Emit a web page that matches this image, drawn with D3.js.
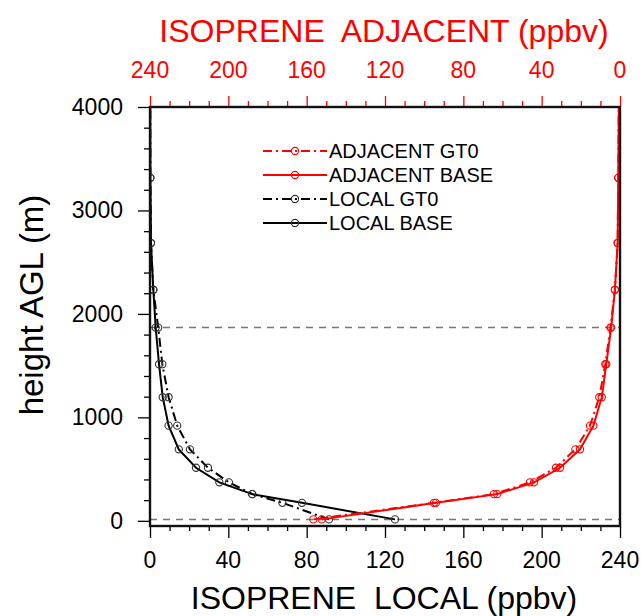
<!DOCTYPE html>
<html>
<head>
<meta charset="utf-8">
<script src="https://cdn.jsdelivr.net/npm/d3@7"></script>
<style>
    body { margin: 0; background: #fff; }
    svg text { font-family: "Liberation Sans", Arial, Helvetica, sans-serif; }
</style>
</head>
<body>
<div id="chart"></div>
<script>
'use strict';
// model levels (m AGL) and isoprene profiles (ppbv)
var heights    = [14, 174, 258, 372, 513, 691, 920, 1195, 1514, 1868, 2233, 2685, 3315, 4300];
var localBase  = [125.1, 77.6, 52.2, 35.4, 23.5, 14.7, 9.5, 6.5, 4.6, 2.9, 1.7, 0.5, 0.2, 0.1];
var localGT0   = [91.4, 67.6, 52.2, 40.3, 29.6, 20.4, 13.9, 9.5, 6.3, 4.2, 1.7, 0.5, 0.2, 0.1];
var adjBase    = [152.3, 94.0, 62.7, 43.9, 30.6, 20.4, 13.6, 9.3, 7.0, 4.5, 2.6, 1.2, 0.9, 0.5];
var adjGT0     = [156.6, 95.0, 64.4, 46.0, 32.7, 22.8, 15.3, 10.6, 7.5, 4.9, 2.6, 1.2, 0.9, 0.5];
var refLevels  = [14, 1868];
var xTicks     = [0, 40, 80, 120, 160, 200, 240];
var yTicks     = [0, 1000, 2000, 3000, 4000];
var legendNames = ["ADJACENT GT0", "ADJACENT BASE", "LOCAL GT0", "LOCAL BASE"];

(function () {
    var width = 643, height = 616;
    var pLeft = 150, pRight = 620, pTop = 107, pBottom = 526;

    var svg = d3.select("#chart").append("svg")
        .attr("width", width)
        .attr("height", height);

    var xLocal = d3.scaleLinear().domain([0, 240]).range([pLeft, pRight]);
    var xAdj = d3.scaleLinear().domain([240, 0]).range([pLeft, pRight]);
    var y = d3.scaleLinear().domain([-50, 4000]).range([pBottom, pTop]);

    svg.append("clipPath").attr("id", "plot-clip")
        .append("rect")
        .attr("x", pLeft).attr("y", pTop)
        .attr("width", pRight - pLeft).attr("height", pBottom - pTop);

    var plot = svg.append("g").attr("clip-path", "url(#plot-clip)");

    // dashed reference levels
    plot.selectAll(".ref")
        .data(refLevels)
        .enter()
        .append("line")
        .attr("class", "ref")
        .attr("x1", pLeft).attr("x2", pRight)
        .attr("y1", function (d) { return y(d); })
        .attr("y2", function (d) { return y(d); })
        .attr("stroke", "#777")
        .attr("stroke-width", 1.5)
        .attr("stroke-dasharray", "7,6");

    var series = [
        {name: legendNames[0], vals: adjGT0, x: xAdj, color: "#ff0000", dash: "9,4,2,4"},
        {name: legendNames[1], vals: adjBase, x: xAdj, color: "#ff0000", dash: null},
        {name: legendNames[2], vals: localGT0, x: xLocal, color: "#000000", dash: "9,4,2,4"},
        {name: legendNames[3], vals: localBase, x: xLocal, color: "#000000", dash: null}
    ];

    // black first so red sits on top
    [2, 3, 0, 1].forEach(function (k) {
        var s = series[k];
        var pts = heights.map(function (h, i) { return [s.x(s.vals[i]), y(h)]; });
        plot.append("path")
            .attr("d", d3.line()(pts))
            .attr("fill", "none")
            .attr("stroke", s.color)
            .attr("stroke-width", 2)
            .attr("stroke-dasharray", s.dash);
        plot.selectAll(".pt" + k)
            .data(pts)
            .enter()
            .append("circle")
            .attr("class", "pt" + k)
            .attr("cx", function (d) { return d[0]; })
            .attr("cy", function (d) { return d[1]; })
            .attr("r", 3.6)
            .attr("fill", "none")
            .attr("stroke", s.color == "#000000" ? "#333" : s.color)
            .attr("stroke-width", 1.1);
    });

    // axes
    var bottomAxis = svg.append("g").attr("transform", "translate(0," + pBottom + ")");
    bottomAxis.call(d3.axisBottom(xLocal).tickValues(d3.range(0, 241, 10)).tickSize(5).tickFormat(""));
    bottomAxis.selectAll(".tick line").filter(function (d) { return d % 40 == 0; }).attr("y2", 12);
    svg.selectAll(".xlab")
        .data(xTicks)
        .enter()
        .append("text")
        .attr("class", "xlab")
        .attr("x", function (d) { return xLocal(d); })
        .attr("y", 568)
        .attr("text-anchor", "middle")
        .attr("font-size", 23)
        .attr("fill", "#000")
        .text(function (d) { return d; });

    var topAxis = svg.append("g").attr("transform", "translate(0," + pTop + ")");
    topAxis.call(d3.axisTop(xAdj).tickValues(d3.range(0, 241, 10)).tickSize(6).tickFormat(""));
    topAxis.selectAll(".tick line").attr("stroke", "#ff0000")
        .filter(function (d) { return d % 40 == 0; }).attr("y2", -11);
    svg.selectAll(".toplab")
        .data(xTicks)
        .enter()
        .append("text")
        .attr("class", "toplab")
        .attr("x", function (d) { return xAdj(d); })
        .attr("y", 78)
        .attr("text-anchor", "middle")
        .attr("font-size", 23)
        .attr("fill", "#ff0000")
        .text(function (d) { return d; });

    var leftAxis = svg.append("g").attr("transform", "translate(" + pLeft + ",0)");
    leftAxis.call(d3.axisLeft(y).tickValues(d3.range(0, 4001, 200)).tickSize(6).tickFormat(""));
    leftAxis.selectAll(".tick line").filter(function (d) { return d % 1000 == 0; }).attr("x2", -12);
    svg.selectAll(".ylab")
        .data(yTicks)
        .enter()
        .append("text")
        .attr("class", "ylab")
        .attr("x", 123)
        .attr("y", function (d) { return y(d) + 8; })
        .attr("text-anchor", "end")
        .attr("font-size", 23)
        .attr("fill", "#000")
        .text(function (d) { return d; });

    svg.selectAll(".domain").remove();
    svg.selectAll(".tick line").attr("stroke-width", 1.3);

    // frame
    svg.append("rect")
        .attr("x", pLeft).attr("y", pTop)
        .attr("width", pRight - pLeft).attr("height", pBottom - pTop)
        .attr("fill", "none")
        .attr("stroke", "#111")
        .attr("stroke-width", 2.4);

    // titles
    svg.append("text")
        .attr("x", 384).attr("y", 42)
        .attr("text-anchor", "middle")
        .attr("font-size", 32)
        .attr("fill", "#ff0000")
        .style("white-space", "pre")
        .text("ISOPRENE  ADJACENT (ppbv)");
    svg.append("text")
        .attr("x", 384).attr("y", 609)
        .attr("text-anchor", "middle")
        .attr("font-size", 32)
        .attr("fill", "#000")
        .style("white-space", "pre")
        .text("ISOPRENE  LOCAL (ppbv)");
    svg.append("text")
        .attr("transform", "translate(43,305) rotate(-90)")
        .attr("text-anchor", "middle")
        .attr("font-size", 33)
        .attr("fill", "#000")
        .text("height AGL (m)");

    // legend
    var legend = svg.append("g").attr("class", "legend");
    var rowY = [151, 175, 199, 223];
    series.forEach(function (s, i) {
        var g = legend.append("g").attr("transform", "translate(0," + rowY[i] + ")");
        g.append("line")
            .attr("x1", 263).attr("x2", 327)
            .attr("stroke", s.color)
            .attr("stroke-width", 2)
            .attr("stroke-dasharray", s.dash);
        g.append("circle")
            .attr("cx", 295).attr("r", 3.6)
            .attr("fill", "none")
            .attr("stroke", s.color == "#000000" ? "#333" : s.color)
            .attr("stroke-width", 1.1);
        g.append("text")
            .attr("x", 329).attr("y", 7)
            .attr("font-size", 20)
            .attr("fill", "#000")
            .text(s.name);
    });
})();
</script>
</body>
</html>
